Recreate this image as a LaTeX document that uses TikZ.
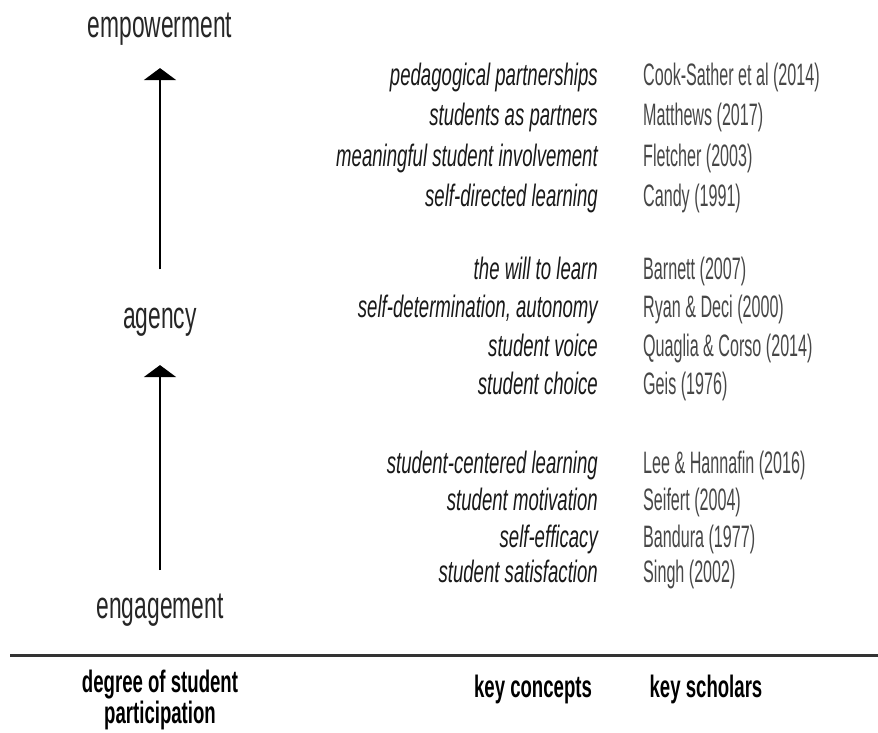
\documentclass[tikz,border=0pt]{standalone}
\usepackage{fontspec}
\setmainfont{Liberation Sans}[FakeStretch=0.6]
\newfontfamily\scholarfont{Liberation Sans}[FakeStretch=0.52]
\usetikzlibrary{arrows.meta}
\tikzset{
  level/.style={font=\fontsize{38}{38}\selectfont, inner sep=0pt, anchor=base, text=black!85},
  concept/.style={font=\fontsize{31}{31}\selectfont\itshape, anchor=base east, inner sep=0pt, text=black!90},
  scholar/.style={font=\scholarfont\fontsize{31}{31}\selectfont, anchor=base west, inner sep=0pt, text=black!72},
  header/.style={font=\fontsize{31}{26}\selectfont\bfseries, inner sep=0pt, anchor=base, align=center},
  rise/.style={-{Triangle[width=32pt,length=12pt]}, line width=2pt},
}

\begin{document}
\begin{tikzpicture}[x=1pt, y=-1pt]
\useasboundingbox (0,0) rectangle (878,733);
% levels of participation
\node[level] (empower) at (160,38) {empowerment};
\node[level] (agency) at (160,328) {agency};
\node[level] (engage) at (160,618) {engagement};
\draw[rise, shorten <=38pt, shorten >=22pt] (agency.north) -- (empower.south);
\draw[rise, shorten <=23pt, shorten >=29pt] (engage.north) -- (agency.south);
% key concepts and key scholars
\node[concept] (c1) at (598,86) {pedagogical partnerships};
\node[scholar] (s1) at (643,86) {Cook-Sather et al (2014)};
\node[concept] (c2) at (598,126) {students as partners};
\node[scholar] (s2) at (643,126) {Matthews (2017)};
\node[concept] (c3) at (598,166) {meaningful student involvement};
\node[scholar] (s3) at (643,166) {Fletcher (2003)};
\node[concept] (c4) at (598,206) {self-directed learning};
\node[scholar] (s4) at (643,206) {Candy (1991)};
\node[concept] (c5) at (598,279) {the will to learn};
\node[scholar] (s5) at (643,279) {Barnett (2007)};
\node[concept] (c6) at (598,317) {self-determination, autonomy};
\node[scholar] (s6) at (643,317) {Ryan \& Deci (2000)};
\node[concept] (c7) at (598,356) {student voice};
\node[scholar] (s7) at (643,356) {Quaglia \& Corso (2014)};
\node[concept] (c8) at (598,394) {student choice};
\node[scholar] (s8) at (643,394) {Geis (1976)};
\node[concept] (c9) at (598,473) {student-centered learning};
\node[scholar] (s9) at (643,473) {Lee \& Hannafin (2016)};
\node[concept] (c10) at (598,510) {student motivation};
\node[scholar] (s10) at (643,510) {Seifert (2004)};
\node[concept] (c11) at (598,547) {self-efficacy};
\node[scholar] (s11) at (643,547) {Bandura (1977)};
\node[concept] (c12) at (598,582) {student satisfaction};
\node[scholar] (s12) at (643,582) {Singh (2002)};
% axis rule and headings
\coordinate (ruleL) at (10,655);
\coordinate (ruleR) at (878,655);
\draw[line width=3pt, black!80] (ruleL) -- (ruleR);
\node[header] (hdegree) at (160,723) {degree of student\\participation};
\node[header] (hconcept) at (533,697) {key concepts};
\node[header] (hscholar) at (706,697) {key scholars};
\end{tikzpicture}
\end{document}
